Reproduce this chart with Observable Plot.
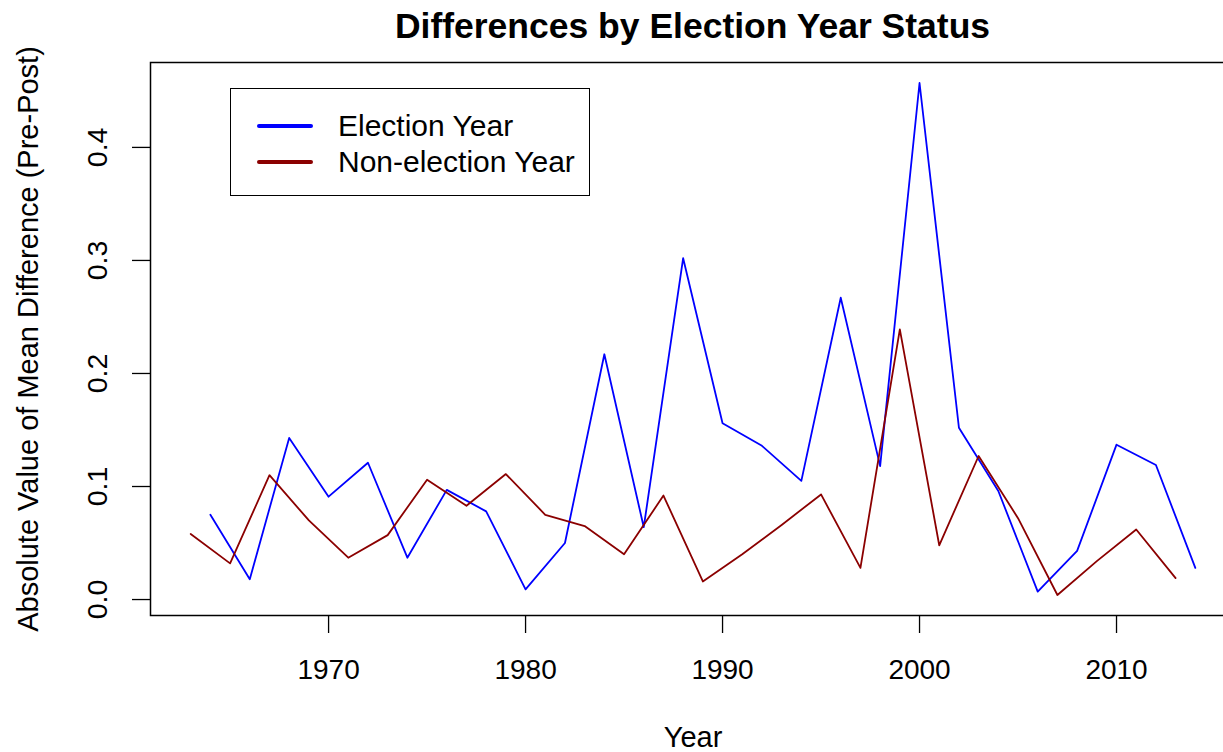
<!DOCTYPE html>
<html>
<head>
<meta charset="utf-8">
<script src="https://cdn.jsdelivr.net/npm/d3@7"></script>
<script src="https://cdn.jsdelivr.net/npm/@observablehq/plot@0.6"></script>
<style>
  body { margin: 0; background: #fff; font-family: "Liberation Sans", Arial, Helvetica, sans-serif; }
  #wrap { position: relative; width: 1223px; height: 752px; overflow: hidden; }
  #title { position: absolute; left: 150px; width: 1085px; top: 9px; text-align: center;
           font-size: 35.5px; font-weight: bold; line-height: 35px; color: #000; }
  #legend { position: absolute; left: 230px; top: 88px; width: 358px; height: 106px;
            border: 1.5px solid #000; background: #fff; }
  .item { position: absolute; left: 0; height: 30px; width: 100%; }
  .item .sw { position: absolute; left: 26px; width: 56px; height: 4px; border-radius: 2px; }
  .item .lb { position: absolute; left: 107px; font-size: 30px; line-height: 30px; white-space: nowrap; color: #000; }
</style>
</head>
<body>
<div id="wrap">
  <div id="chart"></div>
  <div id="title"></div>
  <div id="legend"></div>
</div>
<script>
const titleText = "Differences by Election Year Status";
const xLabel = "Year";
const yLabel = "Absolute Value of Mean Difference (Pre-Post)";
const seriesNames = ["Election Year", "Non-election Year"];
const seriesColors = ["#0000FF", "#8B0000"];

const electionYears = [1964,1966,1968,1970,1972,1974,1976,1978,1980,1982,1984,1986,1988,1990,1992,1994,1996,1998,2000,2002,2004,2006,2008,2010,2012,2014];
const electionValues = [0.075,0.018,0.143,0.091,0.121,0.037,0.097,0.078,0.009,0.050,0.217,0.064,0.302,0.156,0.136,0.105,0.267,0.118,0.457,0.152,0.096,0.007,0.043,0.137,0.119,0.028];

const nonElectionYears = [1963,1965,1967,1969,1971,1973,1975,1977,1979,1981,1983,1985,1987,1989,1991,1993,1995,1997,1999,2001,2003,2005,2007,2009,2011,2013];
const nonElectionValues = [0.058,0.032,0.110,0.070,0.037,0.057,0.106,0.083,0.111,0.075,0.065,0.040,0.092,0.016,0.040,0.066,0.093,0.028,0.239,0.048,0.127,0.072,0.004,0.034,0.062,0.019];

const xTicks = [1970, 1980, 1990, 2000, 2010];
const yTicks = [0.0, 0.1, 0.2, 0.3, 0.4];

const election = electionYears.map((year, i) => ({year, value: electionValues[i]}));
const nonElection = nonElectionYears.map((year, i) => ({year, value: nonElectionValues[i]}));

// R-style 4% padding of the data range
const allYears = electionYears.concat(nonElectionYears);
const allVals = electionValues.concat(nonElectionValues);
const [x0, x1] = d3.extent(allYears);
const [y0, y1] = d3.extent(allVals);
const xPad = (x1 - x0) * 0.04, yPad = (y1 - y0) * 0.04;

const chart = Plot.plot({
  width: 1223,
  height: 752,
  marginLeft: 150,
  marginRight: -12,
  marginTop: 62,
  marginBottom: 137,
  style: { fontFamily: "Liberation Sans, Arial, Helvetica, sans-serif", fontSize: "28px", color: "#000", background: "#fff", overflow: "hidden" },
  x: { domain: [x0 - xPad, x1 + xPad] },
  y: { domain: [y0 - yPad, y1 + yPad] },
  marks: [
    Plot.frame({ stroke: "#000", strokeWidth: 1.5 }),
    Plot.axisX({ ticks: xTicks, tickSize: 18, tickPadding: 26, tickFormat: d => String(d), fontSize: 28, label: null, strokeWidth: 1.3 }),
    Plot.axisY({ ticks: yTicks, tickSize: 18, tickFormat: () => "", label: null, strokeWidth: 1.3 }),
    Plot.text(yTicks, { y: d => d, text: d => d.toFixed(1), frameAnchor: "left", dx: -53, rotate: -90, fontSize: 28.5, textAnchor: "middle", lineAnchor: "middle", fill: "#000" }),
    Plot.text([yLabel], { text: d => d, frameAnchor: "left", dx: -122, rotate: -90, fontSize: 29, textAnchor: "middle", lineAnchor: "middle", fill: "#000" }),
    Plot.text([xLabel], { text: d => d, frameAnchor: "bottom", dy: 111, dx: 0, fontSize: 29, textAnchor: "middle", lineAnchor: "top", fill: "#000" }),
    Plot.line(election, { x: "year", y: "value", stroke: seriesColors[0], strokeWidth: 1.8 }),
    Plot.line(nonElection, { x: "year", y: "value", stroke: seriesColors[1], strokeWidth: 1.8 })
  ]
});
document.getElementById("chart").appendChild(chart);

document.getElementById("title").textContent = titleText;
const legend = document.getElementById("legend");
seriesNames.forEach((name, i) => {
  const item = document.createElement("div");
  item.className = "item";
  item.style.top = (22 + i * 36) + "px";
  const sw = document.createElement("div");
  sw.className = "sw";
  sw.style.background = seriesColors[i];
  sw.style.top = "13px";
  const lb = document.createElement("div");
  lb.className = "lb";
  lb.style.top = "0px";
  lb.textContent = name;
  item.appendChild(sw);
  item.appendChild(lb);
  legend.appendChild(item);
});
</script>
</body>
</html>
